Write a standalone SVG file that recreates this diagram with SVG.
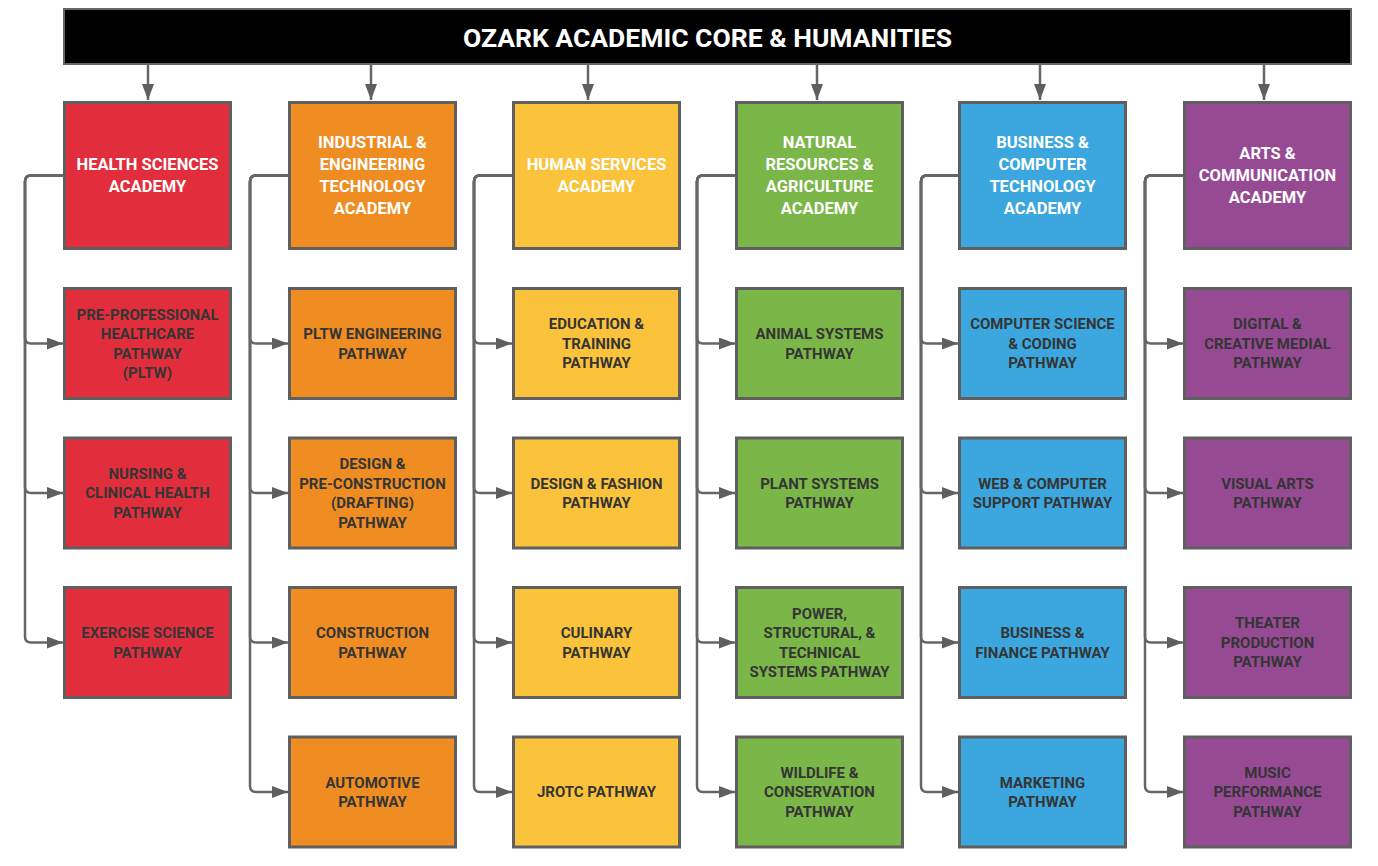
<svg xmlns="http://www.w3.org/2000/svg" width="1378" height="866" viewBox="0 0 1378 866">
<defs>
<marker id="ah" viewBox="0 0 16 12" refX="16" refY="6" markerWidth="16" markerHeight="12" markerUnits="userSpaceOnUse" orient="auto">
<path d="M0,0 L16,6 L0,12 z" fill="#5f5f5f"/>
</marker>
<style>
.box{stroke:#5f5f5f;stroke-width:3}
.red{fill:#e22e3c}.org{fill:#ef8d22}.yel{fill:#fbc33b}.grn{fill:#7ab648}.blu{fill:#3ba7de}.pur{fill:#974a94}
.ac{font-family:Roboto,"Liberation Sans",sans-serif;font-weight:bold;font-size:16.5px;fill:#ffffff;text-anchor:middle}
.pw{font-family:Roboto,"Liberation Sans",sans-serif;font-weight:bold;font-size:15px;fill:#353535;text-anchor:middle}
.hd{font-family:Roboto,"Liberation Sans",sans-serif;font-weight:bold;font-size:26.5px;fill:#ffffff;text-anchor:middle}
.cn{fill:none;stroke:#666666;stroke-width:2.5;marker-end:url(#ah)}
</style>
</defs>
<rect width="1378" height="866" fill="#ffffff"/>

<g id="header">
<rect x="64" y="9" width="1287" height="55" fill="#000000" stroke="#666666" stroke-width="2"/>
<text class="hd" x="707.5" y="46.5">OZARK ACADEMIC CORE &amp; HUMANITIES</text>
</g>

<g id="connectors">
<path class="cn" d="M148,65 V100"/>
<path class="cn" d="M371,65 V100"/>
<path class="cn" d="M588,65 V100"/>
<path class="cn" d="M817,65 V100"/>
<path class="cn" d="M1040,65 V100"/>
<path class="cn" d="M1264,65 V100"/>
<path class="cn" d="M63,175.5 H31 Q25,175.5 25,181.5 V337.5 Q25,343.5 31,343.5 H63"/>
<path class="cn" d="M63,175.5 H31 Q25,175.5 25,181.5 V487 Q25,493 31,493 H63"/>
<path class="cn" d="M63,175.5 H31 Q25,175.5 25,181.5 V636.5 Q25,642.5 31,642.5 H63"/>
<path class="cn" d="M288,175.5 H256 Q250,175.5 250,181.5 V337.5 Q250,343.5 256,343.5 H288"/>
<path class="cn" d="M288,175.5 H256 Q250,175.5 250,181.5 V487 Q250,493 256,493 H288"/>
<path class="cn" d="M288,175.5 H256 Q250,175.5 250,181.5 V636.5 Q250,642.5 256,642.5 H288"/>
<path class="cn" d="M288,175.5 H256 Q250,175.5 250,181.5 V786 Q250,792 256,792 H288"/>
<path class="cn" d="M512,175.5 H480 Q474,175.5 474,181.5 V337.5 Q474,343.5 480,343.5 H512"/>
<path class="cn" d="M512,175.5 H480 Q474,175.5 474,181.5 V487 Q474,493 480,493 H512"/>
<path class="cn" d="M512,175.5 H480 Q474,175.5 474,181.5 V636.5 Q474,642.5 480,642.5 H512"/>
<path class="cn" d="M512,175.5 H480 Q474,175.5 474,181.5 V786 Q474,792 480,792 H512"/>
<path class="cn" d="M735,175.5 H703 Q697,175.5 697,181.5 V337.5 Q697,343.5 703,343.5 H735"/>
<path class="cn" d="M735,175.5 H703 Q697,175.5 697,181.5 V487 Q697,493 703,493 H735"/>
<path class="cn" d="M735,175.5 H703 Q697,175.5 697,181.5 V636.5 Q697,642.5 703,642.5 H735"/>
<path class="cn" d="M735,175.5 H703 Q697,175.5 697,181.5 V786 Q697,792 703,792 H735"/>
<path class="cn" d="M958,175.5 H927 Q921,175.5 921,181.5 V337.5 Q921,343.5 927,343.5 H958"/>
<path class="cn" d="M958,175.5 H927 Q921,175.5 921,181.5 V487 Q921,493 927,493 H958"/>
<path class="cn" d="M958,175.5 H927 Q921,175.5 921,181.5 V636.5 Q921,642.5 927,642.5 H958"/>
<path class="cn" d="M958,175.5 H927 Q921,175.5 921,181.5 V786 Q921,792 927,792 H958"/>
<path class="cn" d="M1183,175.5 H1151 Q1145,175.5 1145,181.5 V337.5 Q1145,343.5 1151,343.5 H1183"/>
<path class="cn" d="M1183,175.5 H1151 Q1145,175.5 1145,181.5 V487 Q1145,493 1151,493 H1183"/>
<path class="cn" d="M1183,175.5 H1151 Q1145,175.5 1145,181.5 V636.5 Q1145,642.5 1151,642.5 H1183"/>
<path class="cn" d="M1183,175.5 H1151 Q1145,175.5 1145,181.5 V786 Q1145,792 1151,792 H1183"/>
</g>

<g id="health-sciences-academy">
<rect class="box red" x="64.5" y="102.5" width="166" height="146"/>
<text class="ac"><tspan x="147.5" y="170.4">HEALTH SCIENCES</tspan><tspan x="147.5" y="192.4">ACADEMY</tspan></text>
</g>
<g id="pre-professional-healthcare">
<rect class="box red" x="64.5" y="288.5" width="166" height="110"/>
<text class="pw"><tspan x="147.5" y="319.5">PRE-PROFESSIONAL</tspan><tspan x="147.5" y="339">HEALTHCARE</tspan><tspan x="147.5" y="358.5">PATHWAY</tspan><tspan x="147.5" y="378">(PLTW)</tspan></text>
</g>
<g id="nursing-clinical-health">
<rect class="box red" x="64.5" y="438" width="166" height="110"/>
<text class="pw"><tspan x="147.5" y="478.8">NURSING &amp;</tspan><tspan x="147.5" y="498.3">CLINICAL HEALTH</tspan><tspan x="147.5" y="517.8">PATHWAY</tspan></text>
</g>
<g id="exercise-science">
<rect class="box red" x="64.5" y="587.5" width="166" height="110"/>
<text class="pw"><tspan x="147.5" y="638">EXERCISE SCIENCE</tspan><tspan x="147.5" y="657.5">PATHWAY</tspan></text>
</g>

<g id="industrial-engineering-academy">
<rect class="box org" x="289.5" y="102.5" width="166" height="146"/>
<text class="ac"><tspan x="372.5" y="148.4">INDUSTRIAL &amp;</tspan><tspan x="372.5" y="170.4">ENGINEERING</tspan><tspan x="372.5" y="192.4">TECHNOLOGY</tspan><tspan x="372.5" y="214.4">ACADEMY</tspan></text>
</g>
<g id="pltw-engineering">
<rect class="box org" x="289.5" y="288.5" width="166" height="110"/>
<text class="pw"><tspan x="372.5" y="339">PLTW ENGINEERING</tspan><tspan x="372.5" y="358.5">PATHWAY</tspan></text>
</g>
<g id="design-preconstruction">
<rect class="box org" x="289.5" y="438" width="166" height="110"/>
<text class="pw"><tspan x="372.5" y="469">DESIGN &amp;</tspan><tspan x="372.5" y="488.5">PRE-CONSTRUCTION</tspan><tspan x="372.5" y="508">(DRAFTING)</tspan><tspan x="372.5" y="527.5">PATHWAY</tspan></text>
</g>
<g id="construction">
<rect class="box org" x="289.5" y="587.5" width="166" height="110"/>
<text class="pw"><tspan x="372.5" y="638">CONSTRUCTION</tspan><tspan x="372.5" y="657.5">PATHWAY</tspan></text>
</g>
<g id="automotive">
<rect class="box org" x="289.5" y="737" width="166" height="110"/>
<text class="pw"><tspan x="372.5" y="787.5">AUTOMOTIVE</tspan><tspan x="372.5" y="807">PATHWAY</tspan></text>
</g>

<g id="human-services-academy">
<rect class="box yel" x="513.5" y="102.5" width="166" height="146"/>
<text class="ac"><tspan x="596.5" y="170.4">HUMAN SERVICES</tspan><tspan x="596.5" y="192.4">ACADEMY</tspan></text>
</g>
<g id="education-training">
<rect class="box yel" x="513.5" y="288.5" width="166" height="110"/>
<text class="pw"><tspan x="596.5" y="329.3">EDUCATION &amp;</tspan><tspan x="596.5" y="348.8">TRAINING</tspan><tspan x="596.5" y="368.3">PATHWAY</tspan></text>
</g>
<g id="design-fashion">
<rect class="box yel" x="513.5" y="438" width="166" height="110"/>
<text class="pw"><tspan x="596.5" y="488.5">DESIGN &amp; FASHION</tspan><tspan x="596.5" y="508">PATHWAY</tspan></text>
</g>
<g id="culinary">
<rect class="box yel" x="513.5" y="587.5" width="166" height="110"/>
<text class="pw"><tspan x="596.5" y="638">CULINARY</tspan><tspan x="596.5" y="657.5">PATHWAY</tspan></text>
</g>
<g id="jrotc">
<rect class="box yel" x="513.5" y="737" width="166" height="110"/>
<text class="pw" x="596.5" y="797.3">JROTC PATHWAY</text>
</g>

<g id="natural-resources-academy">
<rect class="box grn" x="736.5" y="102.5" width="166" height="146"/>
<text class="ac"><tspan x="819.5" y="148.4">NATURAL</tspan><tspan x="819.5" y="170.4">RESOURCES &amp;</tspan><tspan x="819.5" y="192.4">AGRICULTURE</tspan><tspan x="819.5" y="214.4">ACADEMY</tspan></text>
</g>
<g id="animal-systems">
<rect class="box grn" x="736.5" y="288.5" width="166" height="110"/>
<text class="pw"><tspan x="819.5" y="339">ANIMAL SYSTEMS</tspan><tspan x="819.5" y="358.5">PATHWAY</tspan></text>
</g>
<g id="plant-systems">
<rect class="box grn" x="736.5" y="438" width="166" height="110"/>
<text class="pw"><tspan x="819.5" y="488.5">PLANT SYSTEMS</tspan><tspan x="819.5" y="508">PATHWAY</tspan></text>
</g>
<g id="power-structural-technical">
<rect class="box grn" x="736.5" y="587.5" width="166" height="110"/>
<text class="pw"><tspan x="819.5" y="618.5">POWER,</tspan><tspan x="819.5" y="638">STRUCTURAL, &amp;</tspan><tspan x="819.5" y="657.5">TECHNICAL</tspan><tspan x="819.5" y="677">SYSTEMS PATHWAY</tspan></text>
</g>
<g id="wildlife-conservation">
<rect class="box grn" x="736.5" y="737" width="166" height="110"/>
<text class="pw"><tspan x="819.5" y="777.8">WILDLIFE &amp;</tspan><tspan x="819.5" y="797.3">CONSERVATION</tspan><tspan x="819.5" y="816.8">PATHWAY</tspan></text>
</g>

<g id="business-computer-academy">
<rect class="box blu" x="959.5" y="102.5" width="166" height="146"/>
<text class="ac"><tspan x="1042.5" y="148.4">BUSINESS &amp;</tspan><tspan x="1042.5" y="170.4">COMPUTER</tspan><tspan x="1042.5" y="192.4">TECHNOLOGY</tspan><tspan x="1042.5" y="214.4">ACADEMY</tspan></text>
</g>
<g id="computer-science-coding">
<rect class="box blu" x="959.5" y="288.5" width="166" height="110"/>
<text class="pw"><tspan x="1042.5" y="329.3">COMPUTER SCIENCE</tspan><tspan x="1042.5" y="348.8">&amp; CODING</tspan><tspan x="1042.5" y="368.3">PATHWAY</tspan></text>
</g>
<g id="web-computer-support">
<rect class="box blu" x="959.5" y="438" width="166" height="110"/>
<text class="pw"><tspan x="1042.5" y="488.5">WEB &amp; COMPUTER</tspan><tspan x="1042.5" y="508">SUPPORT PATHWAY</tspan></text>
</g>
<g id="business-finance">
<rect class="box blu" x="959.5" y="587.5" width="166" height="110"/>
<text class="pw"><tspan x="1042.5" y="638">BUSINESS &amp;</tspan><tspan x="1042.5" y="657.5">FINANCE PATHWAY</tspan></text>
</g>
<g id="marketing">
<rect class="box blu" x="959.5" y="737" width="166" height="110"/>
<text class="pw"><tspan x="1042.5" y="787.5">MARKETING</tspan><tspan x="1042.5" y="807">PATHWAY</tspan></text>
</g>

<g id="arts-communication-academy">
<rect class="box pur" x="1184.5" y="102.5" width="166" height="146"/>
<text class="ac"><tspan x="1267.5" y="159.4">ARTS &amp;</tspan><tspan x="1267.5" y="181.4">COMMUNICATION</tspan><tspan x="1267.5" y="203.4">ACADEMY</tspan></text>
</g>
<g id="digital-creative-medial">
<rect class="box pur" x="1184.5" y="288.5" width="166" height="110"/>
<text class="pw"><tspan x="1267.5" y="329.3">DIGITAL &amp;</tspan><tspan x="1267.5" y="348.8">CREATIVE MEDIAL</tspan><tspan x="1267.5" y="368.3">PATHWAY</tspan></text>
</g>
<g id="visual-arts">
<rect class="box pur" x="1184.5" y="438" width="166" height="110"/>
<text class="pw"><tspan x="1267.5" y="488.5">VISUAL ARTS</tspan><tspan x="1267.5" y="508">PATHWAY</tspan></text>
</g>
<g id="theater-production">
<rect class="box pur" x="1184.5" y="587.5" width="166" height="110"/>
<text class="pw"><tspan x="1267.5" y="628.3">THEATER</tspan><tspan x="1267.5" y="647.8">PRODUCTION</tspan><tspan x="1267.5" y="667.3">PATHWAY</tspan></text>
</g>
<g id="music-performance">
<rect class="box pur" x="1184.5" y="737" width="166" height="110"/>
<text class="pw"><tspan x="1267.5" y="777.8">MUSIC</tspan><tspan x="1267.5" y="797.3">PERFORMANCE</tspan><tspan x="1267.5" y="816.8">PATHWAY</tspan></text>
</g>
</svg>
